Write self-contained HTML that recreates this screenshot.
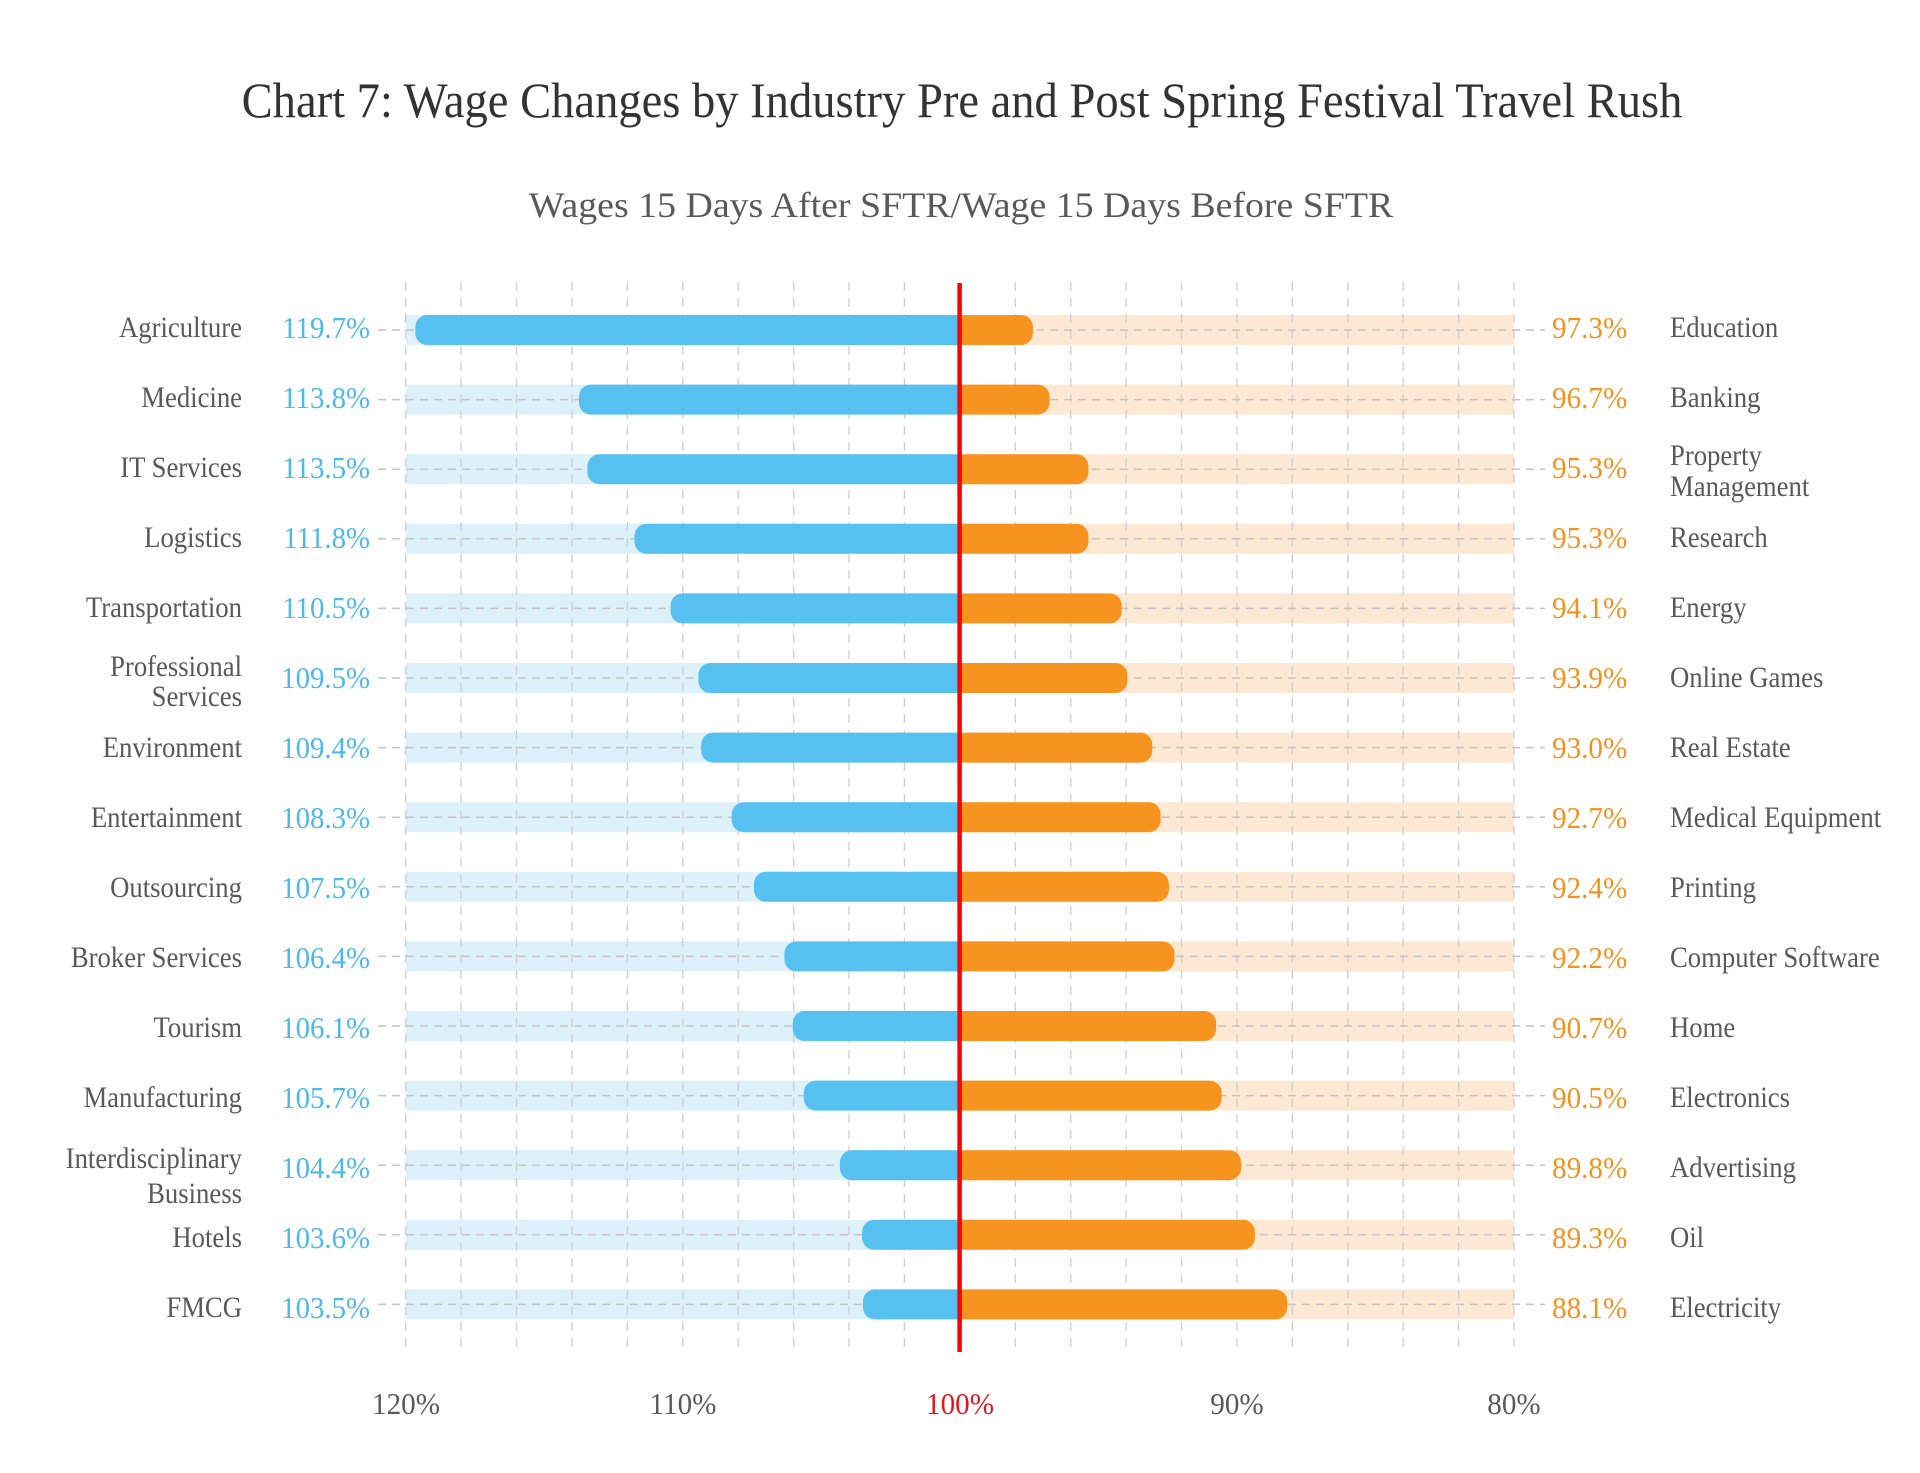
<!DOCTYPE html>
<html><head><meta charset="utf-8"><style>
html,body{margin:0;padding:0;background:#fff;}
svg{display:block;}
text{font-family:"Liberation Serif","Times New Roman",serif;}
.cat{font-size:30px;fill:#595959;}
.vl{font-size:31px;fill:#4DB9EA;}
.vr{font-size:31px;fill:#F2921F;}
.ax{font-size:31px;fill:#595959;}
</style></head><body>
<svg width="1920" height="1473" viewBox="0 0 1920 1473" xmlns="http://www.w3.org/2000/svg">
<rect width="1920" height="1473" fill="#fff"/>
<text transform="translate(962,117) scale(0.931,1)" text-anchor="middle" style="font-size:50px;fill:#333;">Chart 7: Wage Changes by Industry Pre and Post Spring Festival Travel Rush</text>
<text transform="translate(961,217) scale(1.052,1)" text-anchor="middle" style="font-size:36px;fill:#595959;">Wages 15 Days After SFTR/Wage 15 Days Before SFTR</text>

<!-- light background bars -->
<g fill="#DDF1FA">
<rect x="406" y="315" width="554" height="30"/>
<rect x="406" y="384.6" width="554" height="30"/>
<rect x="406" y="454.2" width="554" height="30"/>
<rect x="406" y="523.8" width="554" height="30"/>
<rect x="406" y="593.4" width="554" height="30"/>
<rect x="406" y="663" width="554" height="30"/>
<rect x="406" y="732.6" width="554" height="30"/>
<rect x="406" y="802.2" width="554" height="30"/>
<rect x="406" y="871.8" width="554" height="30"/>
<rect x="406" y="941.4" width="554" height="30"/>
<rect x="406" y="1011" width="554" height="30"/>
<rect x="406" y="1080.6" width="554" height="30"/>
<rect x="406" y="1150.2" width="554" height="30"/>
<rect x="406" y="1219.8" width="554" height="30"/>
<rect x="406" y="1289.4" width="554" height="30"/>
</g>
<g fill="#FDE8D3">
<rect x="960" y="315" width="554" height="30"/>
<rect x="960" y="384.6" width="554" height="30"/>
<rect x="960" y="454.2" width="554" height="30"/>
<rect x="960" y="523.8" width="554" height="30"/>
<rect x="960" y="593.4" width="554" height="30"/>
<rect x="960" y="663" width="554" height="30"/>
<rect x="960" y="732.6" width="554" height="30"/>
<rect x="960" y="802.2" width="554" height="30"/>
<rect x="960" y="871.8" width="554" height="30"/>
<rect x="960" y="941.4" width="554" height="30"/>
<rect x="960" y="1011" width="554" height="30"/>
<rect x="960" y="1080.6" width="554" height="30"/>
<rect x="960" y="1150.2" width="554" height="30"/>
<rect x="960" y="1219.8" width="554" height="30"/>
<rect x="960" y="1289.4" width="554" height="30"/>
</g>

<!-- vertical grid -->
<g stroke="#CFCFCF" stroke-width="1.3" stroke-dasharray="9 7">
<line x1="405.7" y1="282" x2="405.7" y2="1351"/>
<line x1="461.1" y1="282" x2="461.1" y2="1351"/>
<line x1="516.5" y1="282" x2="516.5" y2="1351"/>
<line x1="572" y1="282" x2="572" y2="1351"/>
<line x1="627.4" y1="282" x2="627.4" y2="1351"/>
<line x1="682.8" y1="282" x2="682.8" y2="1351"/>
<line x1="738.2" y1="282" x2="738.2" y2="1351"/>
<line x1="793.6" y1="282" x2="793.6" y2="1351"/>
<line x1="849" y1="282" x2="849" y2="1351"/>
<line x1="904.4" y1="282" x2="904.4" y2="1351"/>
<line x1="1015.3" y1="282" x2="1015.3" y2="1351"/>
<line x1="1070.7" y1="282" x2="1070.7" y2="1351"/>
<line x1="1126.1" y1="282" x2="1126.1" y2="1351"/>
<line x1="1181.5" y1="282" x2="1181.5" y2="1351"/>
<line x1="1236.9" y1="282" x2="1236.9" y2="1351"/>
<line x1="1292.3" y1="282" x2="1292.3" y2="1351"/>
<line x1="1347.8" y1="282" x2="1347.8" y2="1351"/>
<line x1="1403.2" y1="282" x2="1403.2" y2="1351"/>
<line x1="1458.6" y1="282" x2="1458.6" y2="1351"/>
<line x1="1514" y1="282" x2="1514" y2="1351"/>
</g>

<!-- horizontal row dashed lines -->
<g stroke="#C4C4C4" stroke-width="1.5" stroke-dasharray="8 6">
<line x1="378" y1="330" x2="1545" y2="330"/>
<line x1="378" y1="399.6" x2="1545" y2="399.6"/>
<line x1="378" y1="469.2" x2="1545" y2="469.2"/>
<line x1="378" y1="538.8" x2="1545" y2="538.8"/>
<line x1="378" y1="608.4" x2="1545" y2="608.4"/>
<line x1="378" y1="678" x2="1545" y2="678"/>
<line x1="378" y1="747.6" x2="1545" y2="747.6"/>
<line x1="378" y1="817.2" x2="1545" y2="817.2"/>
<line x1="378" y1="886.8" x2="1545" y2="886.8"/>
<line x1="378" y1="956.4" x2="1545" y2="956.4"/>
<line x1="378" y1="1026" x2="1545" y2="1026"/>
<line x1="378" y1="1095.6" x2="1545" y2="1095.6"/>
<line x1="378" y1="1165.2" x2="1545" y2="1165.2"/>
<line x1="378" y1="1234.8" x2="1545" y2="1234.8"/>
<line x1="378" y1="1304.4" x2="1545" y2="1304.4"/>
</g>

<!-- blue bars -->
<g fill="#56C1F0">
<path d="M960,315 H427.3 A12,12 0 0 0 415.3,327 V333 A12,12 0 0 0 427.3,345 H960 Z"/>
<path d="M960,384.6 H591 A12,12 0 0 0 579,396.6 V402.6 A12,12 0 0 0 591,414.6 H960 Z"/>
<path d="M960,454.2 H599.4 A12,12 0 0 0 587.4,466.2 V472.2 A12,12 0 0 0 599.4,484.2 H960 Z"/>
<path d="M960,523.8 H646.5 A12,12 0 0 0 634.5,535.8 V541.8 A12,12 0 0 0 646.5,553.8 H960 Z"/>
<path d="M960,593.4 H682.6 A12,12 0 0 0 670.6,605.4 V611.4 A12,12 0 0 0 682.6,623.4 H960 Z"/>
<path d="M960,663 H710.4 A12,12 0 0 0 698.4,675 V681 A12,12 0 0 0 710.4,693 H960 Z"/>
<path d="M960,732.6 H713.2 A12,12 0 0 0 701.2,744.6 V750.6 A12,12 0 0 0 713.2,762.6 H960 Z"/>
<path d="M960,802.2 H743.7 A12,12 0 0 0 731.7,814.2 V820.2 A12,12 0 0 0 743.7,832.2 H960 Z"/>
<path d="M960,871.8 H765.9 A12,12 0 0 0 753.9,883.8 V889.8 A12,12 0 0 0 765.9,901.8 H960 Z"/>
<path d="M960,941.4 H796.4 A12,12 0 0 0 784.4,953.4 V959.4 A12,12 0 0 0 796.4,971.4 H960 Z"/>
<path d="M960,1011 H804.7 A12,12 0 0 0 792.7,1023 V1029 A12,12 0 0 0 804.7,1041 H960 Z"/>
<path d="M960,1080.6 H815.8 A12,12 0 0 0 803.8,1092.6 V1098.6 A12,12 0 0 0 815.8,1110.6 H960 Z"/>
<path d="M960,1150.2 H851.9 A12,12 0 0 0 839.9,1162.2 V1168.2 A12,12 0 0 0 851.9,1180.2 H960 Z"/>
<path d="M960,1219.8 H874.1 A12,12 0 0 0 862.1,1231.8 V1237.8 A12,12 0 0 0 874.1,1249.8 H960 Z"/>
<path d="M960,1289.4 H875 A12,12 0 0 0 863,1301.4 V1307.4 A12,12 0 0 0 875,1319.4 H960 Z"/>
</g>

<!-- orange bars -->
<g fill="#F7931F">
<path d="M960,315 H1020.9 A12,12 0 0 1 1032.9,327 V333 A12,12 0 0 1 1020.9,345 H960 Z"/>
<path d="M960,384.6 H1037.6 A12,12 0 0 1 1049.6,396.6 V402.6 A12,12 0 0 1 1037.6,414.6 H960 Z"/>
<path d="M960,454.2 H1076.4 A12,12 0 0 1 1088.4,466.2 V472.2 A12,12 0 0 1 1076.4,484.2 H960 Z"/>
<path d="M960,523.8 H1076.4 A12,12 0 0 1 1088.4,535.8 V541.8 A12,12 0 0 1 1076.4,553.8 H960 Z"/>
<path d="M960,593.4 H1109.7 A12,12 0 0 1 1121.7,605.4 V611.4 A12,12 0 0 1 1109.7,623.4 H960 Z"/>
<path d="M960,663 H1115.3 A12,12 0 0 1 1127.3,675 V681 A12,12 0 0 1 1115.3,693 H960 Z"/>
<path d="M960,732.6 H1140.3 A12,12 0 0 1 1152.3,744.6 V750.6 A12,12 0 0 1 1140.3,762.6 H960 Z"/>
<path d="M960,802.2 H1148.6 A12,12 0 0 1 1160.6,814.2 V820.2 A12,12 0 0 1 1148.6,832.2 H960 Z"/>
<path d="M960,871.8 H1156.9 A12,12 0 0 1 1168.9,883.8 V889.8 A12,12 0 0 1 1156.9,901.8 H960 Z"/>
<path d="M960,941.4 H1162.5 A12,12 0 0 1 1174.5,953.4 V959.4 A12,12 0 0 1 1162.5,971.4 H960 Z"/>
<path d="M960,1011 H1204.1 A12,12 0 0 1 1216.1,1023 V1029 A12,12 0 0 1 1204.1,1041 H960 Z"/>
<path d="M960,1080.6 H1209.6 A12,12 0 0 1 1221.6,1092.6 V1098.6 A12,12 0 0 1 1209.6,1110.6 H960 Z"/>
<path d="M960,1150.2 H1229.1 A12,12 0 0 1 1241.1,1162.2 V1168.2 A12,12 0 0 1 1229.1,1180.2 H960 Z"/>
<path d="M960,1219.8 H1242.9 A12,12 0 0 1 1254.9,1231.8 V1237.8 A12,12 0 0 1 1242.9,1249.8 H960 Z"/>
<path d="M960,1289.4 H1275.2 A12,12 0 0 1 1287.2,1301.4 V1307.4 A12,12 0 0 1 1275.2,1319.4 H960 Z"/>
</g>

<!-- red 100% line -->
<line x1="959.6" y1="283" x2="959.6" y2="1352" stroke="#FF0000" stroke-width="4.5"/>

<!-- left category labels -->
<g class="cat" text-anchor="end">
<text class="cat" transform="translate(242,337) scale(0.89,1)">Agriculture</text>
<text class="cat" transform="translate(242,407) scale(0.89,1)">Medicine</text>
<text class="cat" transform="translate(242,477) scale(0.89,1)">IT Services</text>
<text class="cat" transform="translate(242,547) scale(0.89,1)">Logistics</text>
<text class="cat" transform="translate(242,617) scale(0.89,1)">Transportation</text>
<text class="cat" transform="translate(242,676) scale(0.89,1)">Professional</text>
<text class="cat" transform="translate(242,706) scale(0.89,1)">Services</text>
<text class="cat" transform="translate(242,757) scale(0.89,1)">Environment</text>
<text class="cat" transform="translate(242,827) scale(0.89,1)">Entertainment</text>
<text class="cat" transform="translate(242,897) scale(0.89,1)">Outsourcing</text>
<text class="cat" transform="translate(242,967) scale(0.89,1)">Broker Services</text>
<text class="cat" transform="translate(242,1037) scale(0.89,1)">Tourism</text>
<text class="cat" transform="translate(242,1107) scale(0.89,1)">Manufacturing</text>
<text class="cat" transform="translate(242,1168) scale(0.89,1)">Interdisciplinary</text>
<text class="cat" transform="translate(242,1203) scale(0.89,1)">Business</text>
<text class="cat" transform="translate(242,1247) scale(0.89,1)">Hotels</text>
<text class="cat" transform="translate(242,1317) scale(0.89,1)">FMCG</text>
</g>

<!-- left values -->
<g text-anchor="end">
<text class="vl" transform="translate(370,338) scale(0.93,1)">119.7%</text>
<text class="vl" transform="translate(370,408) scale(0.93,1)">113.8%</text>
<text class="vl" transform="translate(370,478) scale(0.93,1)">113.5%</text>
<text class="vl" transform="translate(370,548) scale(0.93,1)">111.8%</text>
<text class="vl" transform="translate(370,618) scale(0.93,1)">110.5%</text>
<text class="vl" transform="translate(370,688) scale(0.93,1)">109.5%</text>
<text class="vl" transform="translate(370,758) scale(0.93,1)">109.4%</text>
<text class="vl" transform="translate(370,828) scale(0.93,1)">108.3%</text>
<text class="vl" transform="translate(370,898) scale(0.93,1)">107.5%</text>
<text class="vl" transform="translate(370,968) scale(0.93,1)">106.4%</text>
<text class="vl" transform="translate(370,1038) scale(0.93,1)">106.1%</text>
<text class="vl" transform="translate(370,1108) scale(0.93,1)">105.7%</text>
<text class="vl" transform="translate(370,1178) scale(0.93,1)">104.4%</text>
<text class="vl" transform="translate(370,1248) scale(0.93,1)">103.6%</text>
<text class="vl" transform="translate(370,1318) scale(0.93,1)">103.5%</text>
</g>

<!-- right values -->
<g>
<text class="vr" transform="translate(1552,338) scale(0.94,1)">97.3%</text>
<text class="vr" transform="translate(1552,408) scale(0.94,1)">96.7%</text>
<text class="vr" transform="translate(1552,478) scale(0.94,1)">95.3%</text>
<text class="vr" transform="translate(1552,548) scale(0.94,1)">95.3%</text>
<text class="vr" transform="translate(1552,618) scale(0.94,1)">94.1%</text>
<text class="vr" transform="translate(1552,688) scale(0.94,1)">93.9%</text>
<text class="vr" transform="translate(1552,758) scale(0.94,1)">93.0%</text>
<text class="vr" transform="translate(1552,828) scale(0.94,1)">92.7%</text>
<text class="vr" transform="translate(1552,898) scale(0.94,1)">92.4%</text>
<text class="vr" transform="translate(1552,968) scale(0.94,1)">92.2%</text>
<text class="vr" transform="translate(1552,1038) scale(0.94,1)">90.7%</text>
<text class="vr" transform="translate(1552,1108) scale(0.94,1)">90.5%</text>
<text class="vr" transform="translate(1552,1178) scale(0.94,1)">89.8%</text>
<text class="vr" transform="translate(1552,1248) scale(0.94,1)">89.3%</text>
<text class="vr" transform="translate(1552,1318) scale(0.94,1)">88.1%</text>
</g>

<!-- right category labels -->
<g>
<text class="cat" transform="translate(1670,337) scale(0.89,1)">Education</text>
<text class="cat" transform="translate(1670,407) scale(0.89,1)">Banking</text>
<text class="cat" transform="translate(1670,465) scale(0.89,1)">Property</text>
<text class="cat" transform="translate(1670,496) scale(0.89,1)">Management</text>
<text class="cat" transform="translate(1670,547) scale(0.89,1)">Research</text>
<text class="cat" transform="translate(1670,617) scale(0.89,1)">Energy</text>
<text class="cat" transform="translate(1670,687) scale(0.89,1)">Online Games</text>
<text class="cat" transform="translate(1670,757) scale(0.89,1)">Real Estate</text>
<text class="cat" transform="translate(1670,827) scale(0.89,1)">Medical Equipment</text>
<text class="cat" transform="translate(1670,897) scale(0.89,1)">Printing</text>
<text class="cat" transform="translate(1670,967) scale(0.89,1)">Computer Software</text>
<text class="cat" transform="translate(1670,1037) scale(0.89,1)">Home</text>
<text class="cat" transform="translate(1670,1107) scale(0.89,1)">Electronics</text>
<text class="cat" transform="translate(1670,1177) scale(0.89,1)">Advertising</text>
<text class="cat" transform="translate(1670,1247) scale(0.89,1)">Oil</text>
<text class="cat" transform="translate(1670,1317) scale(0.89,1)">Electricity</text>
</g>

<!-- x axis labels -->
<g text-anchor="middle">
<text class="ax" transform="translate(406,1414) scale(0.94,1)">120%</text>
<text class="ax" transform="translate(683,1414) scale(0.94,1)">110%</text>
<text class="ax" transform="translate(960,1414) scale(0.94,1)" style="fill:#E3141B;">100%</text>
<text class="ax" transform="translate(1237,1414) scale(0.94,1)">90%</text>
<text class="ax" transform="translate(1514,1414) scale(0.94,1)">80%</text>
</g>
</svg>
</body></html>
